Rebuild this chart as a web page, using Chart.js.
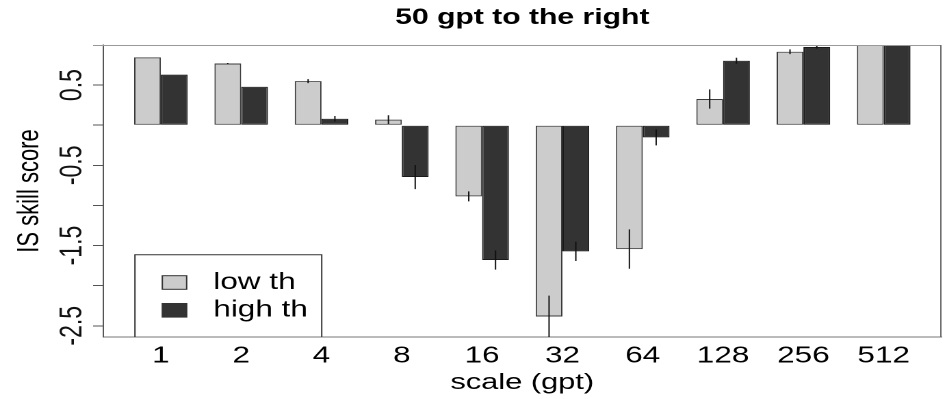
<!DOCTYPE html>
<html>
<head>
<meta charset="utf-8">
<title>50 gpt to the right</title>
<script src="https://cdn.jsdelivr.net/npm/chart.js@4.4.1/dist/chart.umd.min.js"></script>
<style>
  html, body { margin: 0; padding: 0; background: #fff; overflow: hidden; }
  /* the figure is laid out narrow and stretched horizontally, like the original device output */
  #wrap {
    position: absolute; left: 0; top: 0;
    width: 692px; height: 399px;
    transform: scaleX(1.3685); transform-origin: 0 0;
  }
</style>
</head>
<body>
<div id="wrap"><canvas id="c"></canvas></div>
<script>
// ---- data ----
const categories = ['1', '2', '4', '8', '16', '32', '64', '128', '256', '512'];
const lowTh  = [0.845, 0.77, 0.55, 0.07, -0.887, -2.384, -1.544, 0.327, 0.916, 1.0];
const highTh = [0.63, 0.48, 0.08, -0.646, -1.68, -1.573, -0.152, 0.804, 0.975, 1.0];
const lowErr  = [0, 0.005, 0.025, 0.055, 0.062, 0.26, 0.245, 0.12, 0.03, 0];
const highErr = [0, 0, 0.035, 0.15, 0.12, 0.12, 0.1, 0.037, 0.02, 0];
const yTickValues = [-2.5, -2, -1.5, -1, -0.5, 0, 0.5];
const yTickLabels = ['-2.5', '', '-1.5', '', '-0.5', '', '0.5'];
const seriesNames = ['low th', 'high th'];

const FONT = "'Liberation Sans', Arial, Helvetica, sans-serif";
const TICK = 7.3;

// barplot layout: bars one unit wide, groups of two separated by one unit
const groupPos = categories.map((_, i) => 2 + 3 * i);
const toXY = vals => vals.map((v, i) => ({ x: groupPos[i], y: v }));

// vertical error segments centred on each bar end
const errorBars = {
  id: 'errorBars',
  afterDatasetsDraw(chart) {
    const { ctx, chartArea: a, scales: { y } } = chart;
    const errs = [lowErr, highErr];
    ctx.save();
    ctx.beginPath();
    ctx.rect(a.left, a.top, a.right - a.left, a.bottom - a.top);
    ctx.clip();
    ctx.strokeStyle = '#111';
    ctx.lineWidth = 1;
    chart.data.datasets.forEach((ds, d) => {
      chart.getDatasetMeta(d).data.forEach((bar, i) => {
        const e = errs[d][i];
        if (!e) return;
        const v = ds.data[i].y;
        ctx.beginPath();
        ctx.moveTo(bar.x, y.getPixelForValue(v + e));
        ctx.lineTo(bar.x, y.getPixelForValue(v - e));
        ctx.stroke();
      });
    });
    ctx.restore();
  }
};

// box lines, rotated y tick labels and the in-plot legend
const frameAndLegend = {
  id: 'frameAndLegend',
  afterDraw(chart) {
    const { ctx, chartArea: a, scales: { y } } = chart;
    ctx.save();
    ctx.lineWidth = 1;

    ctx.strokeStyle = '#999';
    ctx.beginPath();
    ctx.moveTo(a.left - TICK, a.top + 0.5);
    ctx.lineTo(a.right, a.top + 0.5);
    ctx.stroke();

    ctx.strokeStyle = '#666';
    ctx.beginPath();
    ctx.moveTo(a.right - 0.5, a.top);
    ctx.lineTo(a.right - 0.5, a.bottom);
    ctx.stroke();

    // y tick labels, parallel to the axis
    ctx.fillStyle = '#111';
    ctx.font = `23px ${FONT}`;
    ctx.textAlign = 'center';
    ctx.textBaseline = 'alphabetic';
    yTickValues.forEach((v, i) => {
      const t = yTickLabels[i];
      if (!t) return;
      ctx.save();
      ctx.translate(a.left - 15.6, y.getPixelForValue(v));
      ctx.rotate(-Math.PI / 2);
      ctx.fillText(t, 0, 0);
      ctx.restore();
    });

    // legend
    const lx0 = a.left + 22.8, lx1 = a.left + 159.3, ly0 = 254.3, ly1 = a.bottom;
    ctx.strokeStyle = '#333';
    ctx.beginPath();
    ctx.moveTo(lx0 + 0.5, ly1);
    ctx.lineTo(lx0 + 0.5, ly0 + 0.5);
    ctx.lineTo(lx1 + 0.5, ly0 + 0.5);
    ctx.lineTo(lx1 + 0.5, ly1);
    ctx.stroke();

    ctx.font = `23px ${FONT}`;
    ctx.textAlign = 'left';
    ctx.textBaseline = 'middle';
    const rowY = [282.5, 310.3];
    chart.data.datasets.forEach((ds, d) => {
      const cy = rowY[d];
      ctx.fillStyle = ds.backgroundColor;
      ctx.fillRect(a.left + 43.3, cy - 6.8, 17.8, 13.6);
      ctx.strokeStyle = '#333';
      ctx.strokeRect(a.left + 43.3, cy - 6.8, 17.8, 13.6);
      ctx.fillStyle = '#000';
      ctx.fillText(ds.label, a.left + 80.6, cy);
    });
    ctx.restore();
  }
};

Chart.defaults.font.family = FONT;
Chart.defaults.color = '#000';

new Chart(document.getElementById('c'), {
  type: 'bar',
  data: {
    datasets: [
      {
        label: seriesNames[0],
        data: toXY(lowTh),
        backgroundColor: '#cccccc',
        borderColor: '#3a3a3a',
        borderWidth: 1,
        borderSkipped: false
      },
      {
        label: seriesNames[1],
        data: toXY(highTh),
        backgroundColor: '#333333',
        borderColor: '#1a1a1a',
        borderWidth: 1,
        borderSkipped: false
      }
    ]
  },
  options: {
    responsive: true,
    maintainAspectRatio: false,
    animation: false,
    events: [],
    devicePixelRatio: 2,
    categoryPercentage: 2 / 3,
    barPercentage: 1,
    layout: { padding: { left: 0, right: 4, top: 0, bottom: 0 } },
    plugins: {
      legend: { display: false },
      tooltip: { enabled: false },
      title: {
        display: true,
        fullSize: false,
        text: '50 gpt to the right',
        color: '#000',
        font: { size: 22, weight: 'bold', family: FONT },
        padding: { top: 4.5, bottom: 14.1 }
      }
    },
    scales: {
      x: {
        type: 'linear',
        min: -0.16,
        max: 31.16,
        offset: false,
        grid: { display: false, drawTicks: false, offset: false },
        border: { display: true, color: '#777', width: 1 },
        afterBuildTicks: scale => { scale.ticks = groupPos.map(v => ({ value: v })); },
        afterFit: scale => { scale.height = 62; },
        ticks: {
          autoSkip: false,
          maxRotation: 0,
          minRotation: 0,
          padding: 5.2,
          color: '#000',
          font: { size: 23 },
          callback: (value, index) => categories[index]
        },
        title: {
          display: true,
          text: 'scale (gpt)',
          color: '#000',
          font: { size: 22.5 },
          padding: { top: 0, bottom: 2.5 }
        }
      },
      y: {
        min: -2.64,
        max: 1.0,
        afterBuildTicks: scale => { scale.ticks = yTickValues.map(v => ({ value: v })); },
        afterFit: scale => { scale.width = 75.3; },
        grid: { drawOnChartArea: false, drawTicks: true, tickLength: TICK, color: '#555' },
        border: { display: true, color: '#555', width: 1 },
        ticks: { display: false },
        title: {
          display: true,
          text: 'IS skill score',
          color: '#000',
          font: { size: 22 },
          padding: { top: 8.7, bottom: 0 }
        }
      }
    }
  },
  plugins: [errorBars, frameAndLegend]
});
</script>
</body>
</html>
